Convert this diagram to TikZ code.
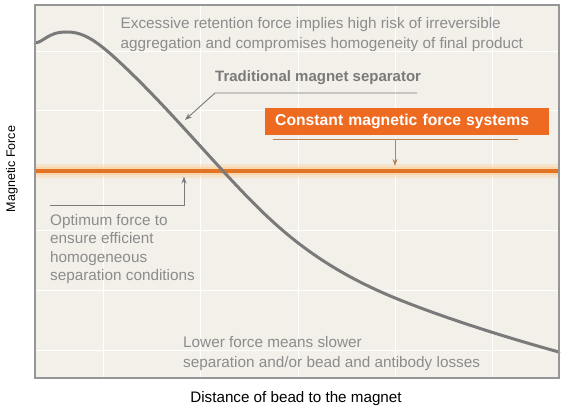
\documentclass[tikz,border=0pt]{standalone}
\usepackage{fontspec}
\setmainfont{Liberation Sans}
\usetikzlibrary{positioning,arrows.meta}
\definecolor{bgbeige}{RGB}{243,240,234}
\definecolor{framegray}{RGB}{150,150,150}
\definecolor{curvegray}{RGB}{122,122,122}
\definecolor{textgray}{RGB}{140,140,140}
\definecolor{boxorange}{RGB}{238,106,32}
\definecolor{lineorange}{RGB}{226,116,38}
\definecolor{glow}{RGB}{250,205,150}
\definecolor{arrowbrown}{RGB}{185,130,85}

\tikzset{
  note/.style={text=textgray, font=\fontsize{15.3}{19.5}\selectfont, align=left, inner sep=0pt, anchor=north west},
  pointer/.style={draw=curvegray, line width=0.9pt, -{Stealth[length=7pt,width=5pt]}},
  axislabel/.style={text=black, inner sep=0pt},
}

\begin{document}
\begin{tikzpicture}[x=1pt, y=-1pt]
  % Fix the picture size to the reference
  \useasboundingbox (0,0) rectangle (572,411);

  % Draw the beige plot area
  \fill[bgbeige] (35,5) rectangle (559,378);

  % Draw faint white grid lines
  \foreach \x in {103,200,298,395,492}
    \draw[white, line width=1pt] (\x,5) -- (\x,378);
  \foreach \y in {52,111,231,290,350}
    \draw[white, line width=1pt] (35,\y) -- (559,\y);

  % Draw the glowing constant force line
  \draw[glow, line width=14pt, opacity=0.35] (35,171) -- (559,171);
  \draw[glow, line width=8pt, opacity=0.6] (35,171) -- (559,171);
  \draw[lineorange, line width=4.5pt] (35,171) -- (559,171);

  % Draw the traditional separator curve
  \draw[curvegray, line width=3pt, line cap=round, line join=round]
    (35,43) .. controls (44,42) and (48,32) .. (66,32)
    .. controls (85,31.5) and (100,43) .. (130,72)
    .. controls (160,101) and (190,135) .. (223,171)
    .. controls (268,219.6) and (310,264) .. (400,300)
    .. controls (450,320) and (515,340) .. (559,352);

  % Draw the frame
  \draw[framegray, line width=1.5pt] (35,5) rectangle (559,378);

  % Texts
  \node[note] (excess) at (120.5,17.5) {Excessive retention force implies high risk of irreversible\\aggregation and compromises homogeneity of final product};
  \node[note, font=\bfseries\fontsize{15}{19.5}\selectfont, text=curvegray] (trad) at (215,70) {Traditional magnet separator};
  \node[fill=boxorange, text=white, font=\bfseries\fontsize{15.7}{19}\selectfont, inner xsep=10pt, inner ysep=0pt,
        text width=264pt, minimum height=27pt, align=left, anchor=north west] (const) at (265,108) {Constant magnetic force systems};
  \node[note, font=\fontsize{15.3}{18.5}\selectfont] (optimum) at (50,214) {Optimum force to\\ensure efficient\\homogeneous\\separation conditions};
  \node[note, font=\fontsize{15.3}{20}\selectfont] (lower) at (183,336) {Lower force means slower\\separation and/or bead and antibody losses};

  % Axis labels
  \node[axislabel, font=\fontsize{15.2}{18}\selectfont, anchor=base] (xlabel) at (296,402) {Distance of bead to the magnet};
  \node[axislabel, font=\fontsize{12.5}{15}\selectfont, rotate=90] (ylabel) at (12,169) {Magnetic Force};

  % Connectors
  \coordinate (tradend) at (417,93);
  \coordinate (tradcorner) at (215,93);
  \coordinate (tradtip) at (185,120);
  \draw[pointer] (tradend) -- (tradcorner) -- (tradtip);

  \coordinate (constleft) at (273,139);
  \coordinate (constright) at (518,139);
  \coordinate (constmid) at (395,139);
  \coordinate (consttip) at (395,166);
  \draw[arrowbrown, line width=0.9pt] (constleft) -- (constright);
  \draw[arrowbrown, line width=0.9pt, -{Stealth[length=7pt,width=5pt]}] (constmid) -- (consttip);

  \coordinate (optstart) at (50,205);
  \coordinate (opttip) at (184,176.5);
  \draw[pointer] (optstart) -| (opttip);
\end{tikzpicture}
\end{document}
